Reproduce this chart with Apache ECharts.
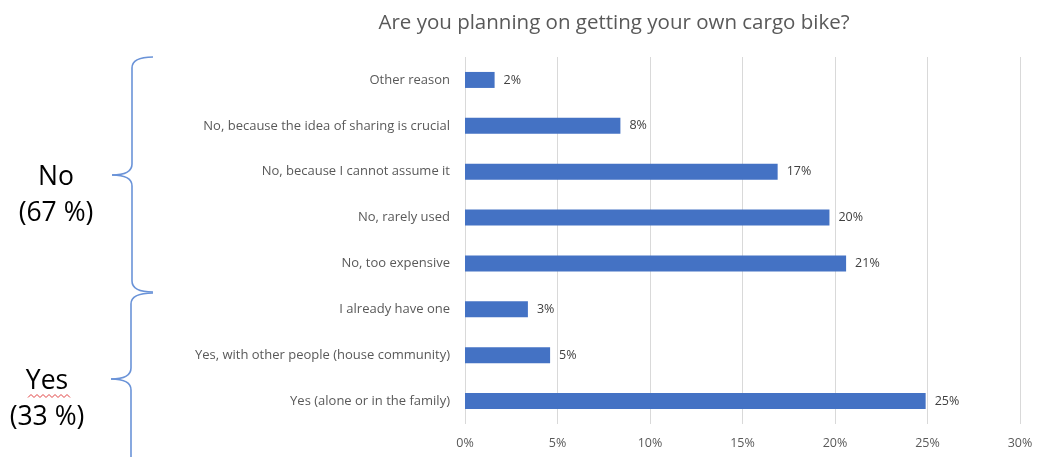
<!DOCTYPE html>
<html><head><meta charset="utf-8">
<script src="https://cdn.jsdelivr.net/npm/echarts@6/dist/echarts.min.js"></script>
<style>html,body{margin:0;padding:0;background:#fff}#c{width:1037px;height:457px}</style>
</head><body><div id="c"></div>
<script>
const categories = ["Other reason","No, because the idea of sharing is crucial","No, because I cannot assume it","No, rarely used","No, too expensive","I already have one","Yes, with other people (house community)","Yes (alone or in the family)"];
const values = [1.6, 8.4, 16.9, 19.7, 20.6, 3.4, 4.6, 24.9];
const valueLabels = ["2%","8%","17%","20%","21%","3%","5%","25%"];
const xTicks = [0,5,10,15,20,25,30];
const groupLabels = [["No","(67 %)"],["Yes","(33 %)"]];
const titleText = 'Are you planning on getting your own cargo bike?';

const chart = echarts.init(document.getElementById('c'));
const font = "'Open Sans', sans-serif";
const braceColor = '#6a93d8';
const bStyle = {stroke: braceColor, lineWidth: 1.6, fill: null};
function curve(x1,y1,cx,cy,x2,y2){return {type:'bezierCurve', shape:{x1,y1,x2,y2,cpx1:cx,cpy1:cy}, style:bStyle};}
function seg(x1,y1,x2,y2){return {type:'line', shape:{x1,y1,x2,y2}, style:bStyle};}
function brace(x, top, tip, bottom, tipX, openBottom){
  const r = 11, endX = 153;
  const els = [curve(endX, top, x, top, x, top + r), seg(x, top + r, x, tip - r),
    curve(x, tip - r, x, tip, tipX, tip), curve(tipX, tip, x, tip, x, tip + r)];
  if (openBottom) els.push(seg(x, tip + r, x, bottom));
  else els.push(seg(x, tip + r, x, bottom - r), curve(x, bottom - r, x, bottom, endX, bottom));
  return els;
}
const squiggle = [];
for (let i = 0; i <= 14; i++) squiggle.push([28 + i * 3, 396 + (i % 2 ? -1.5 : 1.5)]);
chart.setOption({
  animation: false,
  grid: {left: 465, right: 17, top: 57, bottom: 33, containLabel: false},
  xAxis: {type: 'value', min: xTicks[0], max: xTicks[xTicks.length-1], interval: 5,
    axisLine: {show: false}, axisTick: {show: false},
    splitLine: {lineStyle: {color: '#d9d9d9', width: 1}},
    axisLabel: {formatter: '{value}%', color: '#595959', fontFamily: font, fontSize: 12.5, margin: 13}},
  yAxis: {type: 'category', data: categories, inverse: true,
    axisLine: {show: false}, axisTick: {show: false},
    axisLabel: {color: '#595959', fontFamily: font, fontSize: 13, margin: 15}},
  series: [{type: 'bar', data: values, barWidth: 16,
    itemStyle: {color: '#4472c4'},
    label: {show: true, position: 'right', distance: 9, color: '#404040', fontFamily: font, fontSize: 12.5,
      formatter: p => valueLabels[p.dataIndex]}}],
  graphic: {elements: [
    {type: 'text', x: 614, y: 23, style: {text: titleText, align: 'center', verticalAlign: 'middle', font: "20.5px 'Open Sans', sans-serif", fill: '#595959'}},
    ...brace(132, 57, 175, 292, 112, false),
    ...brace(131, 293, 379, 460, 111, true),
    {type: 'text', x: 56, y: 195, style: {text: groupLabels[0][0] + '\n' + groupLabels[0][1], align: 'center', verticalAlign: 'middle', font: "26.5px 'Open Sans', sans-serif", lineHeight: 36, fill: '#000'}},
    {type: 'text', x: 47, y: 399, style: {text: groupLabels[1][0] + '\n' + groupLabels[1][1], align: 'center', verticalAlign: 'middle', font: "26.5px 'Open Sans', sans-serif", lineHeight: 36, fill: '#000'}},
    {type: 'polyline', shape: {points: squiggle}, style: {stroke: '#e04040', lineWidth: 1, fill: null}}
  ]}
});
</script></body></html>
